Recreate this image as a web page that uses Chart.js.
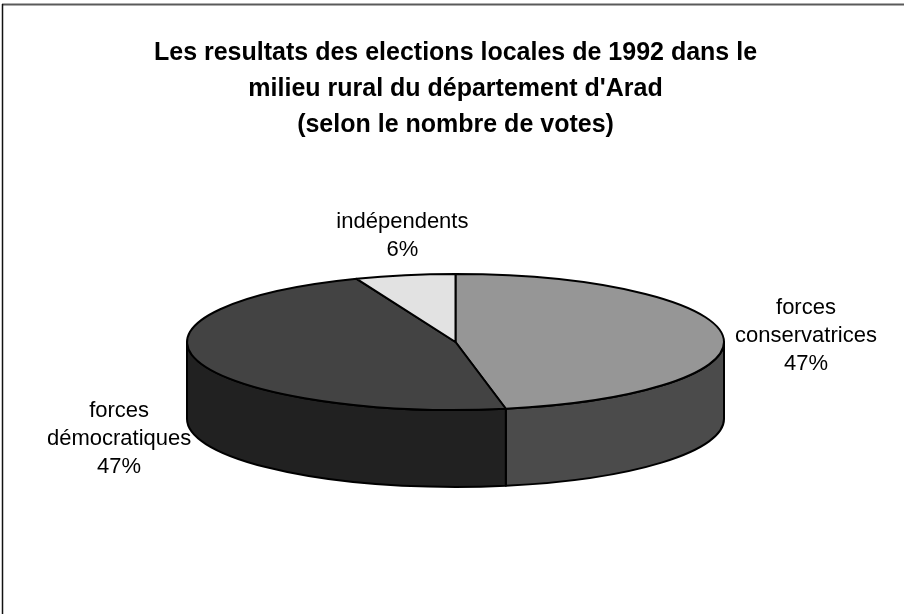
<!DOCTYPE html>
<html>
<head>
<meta charset="utf-8">
<script src="https://cdn.jsdelivr.net/npm/chart.js@4/dist/chart.umd.min.js"></script>
<style>
  html, body { margin: 0; padding: 0; background: #fff; }
  #wrap { width: 904px; height: 614px; position: relative; }
</style>
</head>
<body>
<div id="wrap"><canvas id="c" width="904" height="614"></canvas></div>
<script>
// Categories and their vote shares (%), clockwise from 12 o'clock
const categories = ['forces conservatrices', 'forces démocratiques', 'indépendents'];
const shares = [47, 47, 6];
const titleLines = [
  'Les resultats des elections locales de 1992 dans le',
  "milieu rural du département d'Arad",
  '(selon le nombre de votes)'
];

// Face colours (top) and shaded wall colours (side)
const topColors = ['#969696', '#434343', '#e2e2e2'];
const sideColors = ['#4b4b4b', '#212121', '#8a8a8a'];

const FONT = '"Liberation Sans", Arial, Helvetica, sans-serif';
const TILT = 0.253;        // vertical squash of the disc
const DEPTH_RATIO = 0.287; // wall height relative to radius

// White background and the frame lines
const framePlugin = {
  id: 'frame',
  beforeDraw(chart) {
    const { ctx, width, height } = chart;
    ctx.save();
    ctx.fillStyle = '#fff';
    ctx.fillRect(0, 0, width, height);
    ctx.strokeStyle = '#5a5a5a';
    ctx.lineWidth = 2;
    ctx.beginPath();
    ctx.moveTo(2, 4.5);
    ctx.lineTo(width, 4.5);
    ctx.stroke();
    ctx.strokeStyle = '#111';
    ctx.lineWidth = 1.5;
    ctx.beginPath();
    ctx.moveTo(2.5, 4);
    ctx.lineTo(2.5, height);
    ctx.stroke();
    ctx.restore();
  }
};

// Renders the pie arcs as a tilted 3D disc with outside labels
const pie3dPlugin = {
  id: 'pie3d',
  beforeDatasetsDraw(chart) {
    const ctx = chart.ctx;
    const meta = chart.getDatasetMeta(0);
    const arcs = meta.data;
    if (!arcs.length) return false;
    const cx = arcs[0].x, cy = arcs[0].y, rx = arcs[0].outerRadius;
    const ry = rx * TILT, depth = rx * DEPTH_RATIO;

    ctx.save();
    ctx.lineJoin = 'round';
    ctx.lineWidth = 2;
    ctx.strokeStyle = '#000';

    // Outer walls: only the front half (angles 0..PI) is visible
    arcs.forEach((arc, i) => {
      const s = arc.startAngle, e = arc.endAngle;
      for (let k = 0; k <= 1; k++) {
        const lo = Math.max(s, k * 2 * Math.PI);
        const hi = Math.min(e, k * 2 * Math.PI + Math.PI);
        if (hi <= lo) continue;
        ctx.beginPath();
        ctx.ellipse(cx, cy, rx, ry, 0, lo, hi, false);
        ctx.lineTo(cx + rx * Math.cos(hi), cy + ry * Math.sin(hi) + depth);
        ctx.ellipse(cx, cy + depth, rx, ry, 0, hi, lo, true);
        ctx.closePath();
        ctx.fillStyle = sideColors[i];
        ctx.fill();
        ctx.stroke();
      }
    });

    // Top faces
    arcs.forEach((arc, i) => {
      ctx.beginPath();
      ctx.moveTo(cx, cy);
      ctx.ellipse(cx, cy, rx, ry, 0, arc.startAngle, arc.endAngle, false);
      ctx.closePath();
      ctx.fillStyle = topColors[i];
      ctx.fill();
      ctx.stroke();
    });

    // Labels: category words on separate lines, then the share
    const values = chart.data.datasets[0].data;
    const total = values.reduce((a, b) => a + b, 0);
    const lineH = 28, gap = 13;
    ctx.font = '22px ' + FONT;
    ctx.fillStyle = '#000';
    ctx.textAlign = 'center';
    ctx.textBaseline = 'middle';
    arcs.forEach((arc, i) => {
      const mid = (arc.startAngle + arc.endAngle) / 2;
      const lines = chart.data.labels[i].split(' ')
        .concat([Math.round(values[i] / total * 100) + '%']);
      const halfW = Math.max(...lines.map(l => ctx.measureText(l).width)) / 2;
      const halfH = lines.length * lineH / 2;
      const cs = Math.cos(mid), sn = Math.sin(mid);
      const ax = cx + rx * cs;
      const ay = cy + ry * sn + (sn > 0 ? depth : 0);
      const bx = ax + cs * Math.abs(cs) * (halfW + gap);
      const by = ay + Math.pow(sn, 3) * (halfH + gap);
      lines.forEach((t, j) => {
        ctx.fillText(t, bx, by - halfH + lineH * (j + 0.5));
      });
    });
    ctx.restore();
    return false;
  }
};

new Chart(document.getElementById('c'), {
  type: 'pie',
  data: {
    labels: categories,
    datasets: [{
      data: shares,
      backgroundColor: topColors,
      borderColor: '#000',
      borderWidth: 2
    }]
  },
  options: {
    responsive: false,
    animation: false,
    events: [],
    radius: 268.5,
    layout: { padding: { left: 7, right: 0, top: 0, bottom: 82 } },
    plugins: {
      legend: { display: false },
      tooltip: { enabled: false },
      title: {
        display: true,
        text: titleLines,
        color: '#000',
        font: { family: FONT, size: 25, weight: 'bold', lineHeight: 36 / 25 },
        padding: { top: 35, bottom: 9 }
      }
    }
  },
  plugins: [framePlugin, pie3dPlugin]
});
</script>
</body>
</html>
